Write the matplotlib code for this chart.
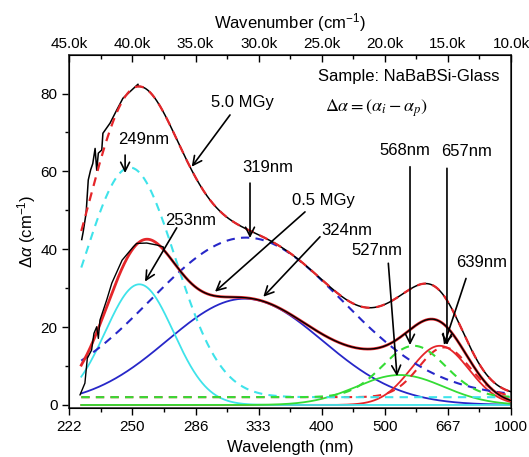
import numpy as np
import matplotlib
matplotlib.use("Agg")
import matplotlib.pyplot as plt
from matplotlib.ticker import FixedLocator, MultipleLocator

plt.rcParams['font.family'] = ['Liberation Sans', 'DejaVu Sans']
plt.rcParams['mathtext.fontset'] = 'custom'
plt.rcParams['mathtext.rm'] = 'Liberation Sans'
plt.rcParams['mathtext.it'] = 'Liberation Sans:italic'
plt.rcParams['mathtext.bf'] = 'Liberation Sans:bold'

# ---------------- data ----------------
# axis ticks (wavenumber positions, wavelength labels)
wn_ticks = [45000, 40000, 35000, 30000, 25000, 20000, 15000, 10000]
wl_labels = ['222', '250', '286', '333', '400', '500', '667', '1000']
wn_labels = ['45.0k', '40.0k', '35.0k', '30.0k', '25.0k', '20.0k', '15.0k', '10.0k']

# 5.0 MGy Gaussian bands (dashed): 249, 319, 568, 657 nm
band5_nm = [249, 319, 568, 657]
band5_center = [40200, 31000, 17700, 15300]   # cm^-1
band5_amp = [59.0, 41.0, 13.2, 12.8]
band5_sigma = [3600, 7600, 2500, 2000]
band5_base = 2.0

# 0.5 MGy Gaussian bands (solid): 253, 324, 527, 639 nm
band05_nm = [253, 324, 527, 639]
band05_center = [39450, 31100, 18800, 15650]
band05_amp = [31.0, 27.3, 7.7, 15.2]
band05_sigma = [2700, 6150, 3480, 2300]
band05_base = 0.0

band_colors = ['#3FE3EA', '#2727C8', '#35DC35', '#E5262A']
draw_order = [1, 3, 0, 2]   # blue, red, cyan, green (green on top)

# measured spectra, noisy UV onset (wavelength nm, delta alpha)
meas5_nm = [227.2, 227.8, 229.0, 229.9, 230.9, 231.8, 232.8, 233.5, 234.2,
            235.7, 236.2, 239.4, 242.5, 245.4, 249.7, 252.8]
meas5_val = [42.5, 44.5, 49.3, 57.8, 60.4, 62.0, 65.9, 60.3, 64.7,
             65.5, 69.8, 72.4, 75.8, 78.8, 80.9, 82.4]
meas05_nm = [226.5, 228.5, 229.5, 231.3, 232.3, 233.5, 234.2, 234.9, 237.9,
             240.2, 245.0, 250.4, 252.1, 257.3, 262.6, 266.3]
meas05_val = [2.6, 5.6, 12.0, 14.1, 18.4, 20.1, 17.1, 21.8, 27.0,
              31.3, 37.2, 40.6, 41.5, 41.6, 41.1, 40.6]

wn_start, wn_end = 44050, 10000

# ---------------- figure ----------------
fig = plt.figure(figsize=(5.29, 4.57), dpi=100)
ax = fig.add_axes([0.131, 0.1066, 0.835, 0.773])

wn = np.linspace(wn_start, wn_end, 800)

def gauss(x, c, a, s):
    return a * np.exp(-0.5 * ((x - c) / s) ** 2)

comp5 = [gauss(wn, c, a, s) for c, a, s in zip(band5_center, band5_amp, band5_sigma)]
comp05 = [gauss(wn, c, a, s) for c, a, s in zip(band05_center, band05_amp, band05_sigma)]
fit5 = band5_base + np.sum(comp5, axis=0)
fit05 = band05_base + np.sum(comp05, axis=0)

# components
for i in draw_order:
    ax.plot(wn, band05_base + comp05[i], color=band_colors[i], lw=1.3, zorder=2)
for i in draw_order:
    ax.plot(wn, band5_base + comp5[i], color=band_colors[i], lw=1.5, ls=(0, (4, 3)), zorder=2.5)

# measured curves: noisy onset points, then following the fit
def measured(nm_list, val_list, fit):
    wn_pts = 1e7 / np.array(nm_list)
    mask = wn < wn_pts.min()
    return np.concatenate([wn_pts, wn[mask]]), np.concatenate([val_list, fit[mask]])

mx5, my5 = measured(meas5_nm, meas5_val, fit5)
mx05, my05 = measured(meas05_nm, meas05_val, fit05)

ax.plot(wn, fit05, color='#E5262A', lw=2.0, zorder=3)
ax.plot(mx05, my05, color='k', lw=1.0, zorder=4)
ax.plot(mx5, my5, color='k', lw=1.1, zorder=4)
ax.plot(wn, fit5, color='#E5262A', lw=1.6, ls=(0, (4, 3)), zorder=5)

# axes
ax.set_xlim(45000, 10000)
ax.set_ylim(-0.85, 89.9)
ax.xaxis.set_major_locator(FixedLocator(wn_ticks))
ax.set_xticklabels(wl_labels)
ax.xaxis.set_minor_locator(MultipleLocator(2500))
ax.yaxis.set_major_locator(FixedLocator([0, 20, 40, 60, 80]))
ax.yaxis.set_minor_locator(MultipleLocator(10))
ax.tick_params(axis='both', which='major', direction='out', length=5, width=1, labelsize=11)
ax.tick_params(axis='both', which='minor', direction='out', length=3, width=1)
ax.tick_params(axis='y', right=False)
for sp in ax.spines.values():
    sp.set_linewidth(1.2)
    sp.set_color('#333333')

ax.set_xlabel('Wavelength (nm)', fontsize=12, labelpad=4)
ax.set_ylabel(r'$\it{Δα}$ (cm$^{-1}$)', fontsize=12, labelpad=2)

top = ax.twiny()
top.set_xlim(ax.get_xlim())
top.xaxis.set_major_locator(FixedLocator(wn_ticks))
top.set_xticklabels(wn_labels)
top.xaxis.set_minor_locator(MultipleLocator(2500))
top.tick_params(axis='x', which='major', direction='in', length=5, width=1, labelsize=11, pad=3)
top.tick_params(axis='x', which='minor', direction='in', length=3, width=1)
top.set_xlabel('Wavenumber (cm$^{-1}$)', fontsize=12, labelpad=6)

# text annotations
ax.text(0.563, 0.938, 'Sample: NaBaBSi-Glass', transform=ax.transAxes,
        fontsize=12, ha='left', va='center')
ax.text(0.579, 0.85, r'$\Delta\alpha = \left(\alpha_i - \alpha_p\right)$', transform=ax.transAxes,
        fontsize=13, ha='left', va='center', math_fontfamily='stix')

def label(txt, pos, tail=None, head=None):
    ax.text(pos[0], pos[1], txt, fontsize=12, ha='center', va='center', zorder=6)
    if tail is not None:
        ax.annotate('', xy=head, xytext=tail,
                    arrowprops=dict(arrowstyle='->', color='k', lw=1.2,
                                    mutation_scale=16, shrinkA=0, shrinkB=0), zorder=6)

label('249nm', (39073, 68.1), (40578, 64.2), (40578, 59.6))
label('5.0 MGy', (31304, 77.6), (32266, 74.5), (35301, 61.2))
label('319nm', (29255, 61.1), (30681, 57.0), (30681, 42.9))
label('253nm', (35357, 47.5), (36490, 45.5), (39002, 31.7))
label('0.5 MGy', (24899, 52.6), (26323, 49.6), (33455, 29.1))
label('324nm', (22997, 44.9), (25136, 43.2), (29627, 27.8))
label('527nm', (20619, 39.8), (19722, 36.4), (19033, 7.4))
label('568nm', (18395, 65.5), (18003, 61.2), (18003, 15.4))
label('657nm', (13487, 65.0), (15075, 60.8), (15075, 15.4))
label('639nm', (12298, 36.7), (13566, 32.5), (15309, 15.4))

fig.savefig('out.png', dpi=100)
